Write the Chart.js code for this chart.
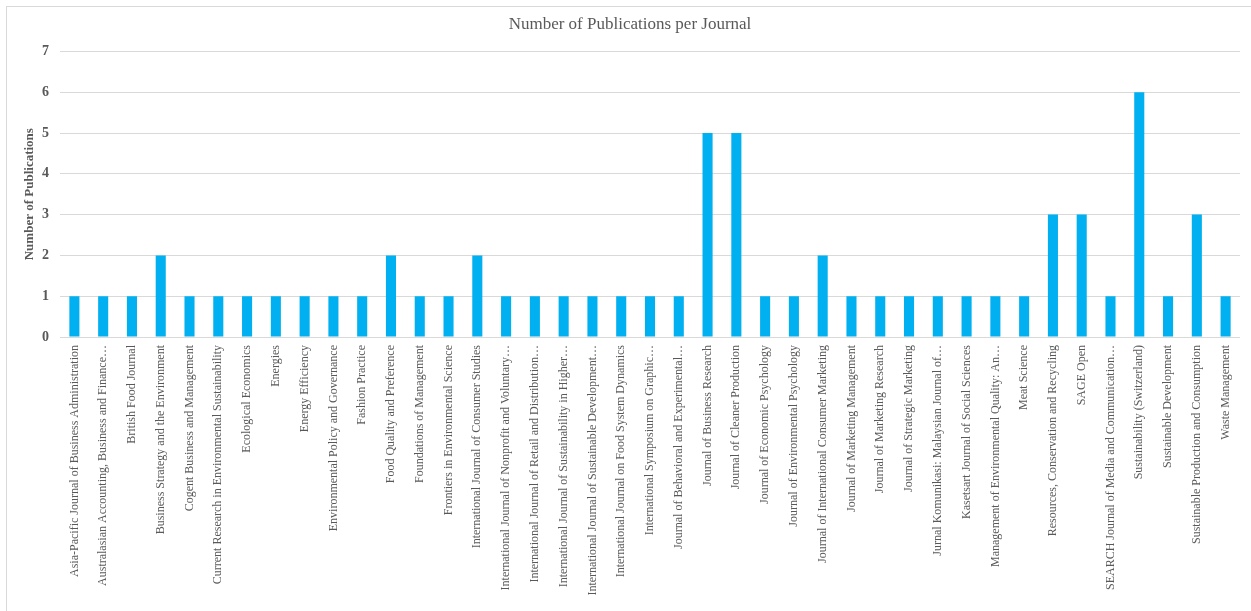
<!DOCTYPE html>
<html>
<head>
<meta charset="utf-8">
<title>Number of Publications per Journal</title>
<script src="https://cdn.jsdelivr.net/npm/chart.js@4"></script>
<style>
    html, body { margin: 0; padding: 0; background: #fff; overflow: hidden; }
    #wrap { position: relative; width: 1251px; height: 611px; }
    #frame {
        position: absolute; left: 6px; top: 6px; width: 1400px; height: 700px;
        border-left: 1px solid #d9d9d9; border-top: 1px solid #d9d9d9;
        pointer-events: none;
    }
</style>
</head>
<body>
<div id="wrap">
    <div id="frame"></div>
    <canvas id="chart"></canvas>
</div>
<script>
// Journal names (as truncated in the original chart)
const journals = [
    'Asia-Pacific Journal of Business Administration',
    'Australasian Accounting, Business and Finance…',
    'British Food Journal',
    'Business Strategy and the Environment',
    'Cogent Business and Management',
    'Current Research in Environmental Sustainability',
    'Ecological Economics',
    'Energies',
    'Energy Efficiency',
    'Environmental Policy and Governance',
    'Fashion Practice',
    'Food Quality and Preference',
    'Foundations of Management',
    'Frontiers in Environmental Science',
    'International Journal of Consumer Studies',
    'International Journal of Nonprofit and Voluntary…',
    'International Journal of Retail and Distribution…',
    'International Journal of Sustainability in Higher…',
    'International Journal of Sustainable Development…',
    'International Journal on Food System Dynamics',
    'International Symposium on Graphic…',
    'Journal of Behavioral and Experimental…',
    'Journal of Business Research',
    'Journal of Cleaner Production',
    'Journal of Economic Psychology',
    'Journal of Environmental Psychology',
    'Journal of International Consumer Marketing',
    'Journal of Marketing Management',
    'Journal of Marketing Research',
    'Journal of Strategic Marketing',
    'Jurnal Komunikasi: Malaysian Journal of…',
    'Kasetsart Journal of Social Sciences',
    'Management of Environmental Quality: An…',
    'Meat Science',
    'Resources, Conservation and Recycling',
    'SAGE Open',
    'SEARCH Journal of Media and Communication…',
    'Sustainability (Switzerland)',
    'Sustainable Development',
    'Sustainable Production and Consumption',
    'Waste Management'
];

// Publications per journal
const publications = [
    1, 1, 1, 2, 1, 1, 1, 1, 1, 1,
    1, 2, 1, 1, 2, 1, 1, 1, 1, 1,
    1, 1, 5, 5, 1, 1, 2, 1, 1, 1,
    1, 1, 1, 1, 3, 3, 1, 6, 1, 3,
    1
];

const yTicks = [0, 1, 2, 3, 4, 5, 6, 7];

const textColor = '#595959';
const serif = "'Liberation Serif', 'DejaVu Serif', serif";

const ctx = document.getElementById('chart').getContext('2d');
new Chart(ctx, {
    type: 'bar',
    data: {
        labels: journals,
        datasets: [{
            label: 'Number of Publications',
            data: publications,
            backgroundColor: '#00b0f0',
            borderWidth: 0,
            barPercentage: 0.35,
            categoryPercentage: 1
        }]
    },
    options: {
        responsive: true,
        maintainAspectRatio: false,
        animation: false,
        layout: {
            padding: { left: 20, right: 11, top: 0, bottom: 0 }
        },
        plugins: {
            legend: { display: false },
            tooltip: { enabled: false },
            title: {
                display: true,
                text: 'Number of Publications per Journal',
                color: textColor,
                font: { family: serif, size: 17, weight: 'normal' },
                padding: { top: 14, bottom: 17 }
            }
        },
        scales: {
            x: {
                grid: { display: false },
                border: { display: false },
                ticks: {
                    autoSkip: false,
                    minRotation: 90,
                    maxRotation: 90,
                    padding: 0,
                    color: textColor,
                    font: { family: serif, size: 12 }
                },
                afterFit: function(scale) {
                    scale.height = 274;
                }
            },
            y: {
                min: 0,
                max: 7,
                afterBuildTicks: function(scale) {
                    scale.ticks = yTicks.map(v => ({ value: v }));
                },
                grid: {
                    color: '#d9d9d9',
                    lineWidth: 1,
                    drawTicks: false
                },
                border: { display: false },
                ticks: {
                    padding: 11,
                    color: textColor,
                    font: { family: serif, size: 14, weight: 'bold' }
                },
                title: {
                    display: true,
                    text: 'Number of Publications',
                    color: textColor,
                    font: { family: serif, size: 13, weight: 'bold' },
                    padding: { top: 2, bottom: 0 }
                },
                afterFit: function(scale) {
                    scale.width = 40;
                }
            }
        }
    }
});
</script>
</body>
</html>
